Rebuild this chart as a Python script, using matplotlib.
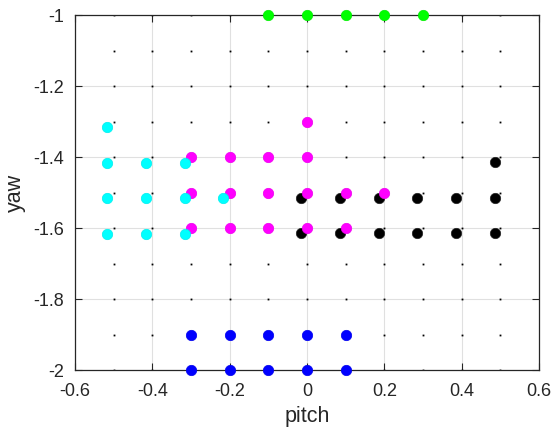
import numpy as np
import matplotlib
matplotlib.use('Agg')
import matplotlib.pyplot as plt

plt.rcParams['font.family'] = ['Liberation Sans', 'DejaVu Sans']

# sample grid (small black dots)
grid_pitch = [-0.5, -0.4, -0.3, -0.2, -0.1, 0.0, 0.1, 0.2, 0.3, 0.4, 0.5]
grid_yaw = [-1.0, -1.1, -1.2, -1.3, -1.4, -1.5, -1.6, -1.7, -1.8, -1.9, -2.0]

# green group
green_pitch = [-0.1, 0.0, 0.1, 0.2, 0.3]
green_yaw = [-1.0, -1.0, -1.0, -1.0, -1.0]

# blue group
blue_pitch = [-0.3, -0.2, -0.1, 0.0, 0.1, -0.3, -0.2, -0.1, 0.0, 0.1]
blue_yaw = [-1.9, -1.9, -1.9, -1.9, -1.9, -2.0, -2.0, -2.0, -2.0, -2.0]

# black group
black_pitch = [0.485,
               -0.015, 0.085, 0.185, 0.285, 0.385, 0.485,
               -0.015, 0.085, 0.185, 0.285, 0.385, 0.485]
black_yaw = [-1.415,
             -1.515, -1.515, -1.515, -1.515, -1.515, -1.515,
             -1.615, -1.615, -1.615, -1.615, -1.615, -1.615]

# magenta group
magenta_pitch = [0.0,
                 -0.3, -0.2, -0.1, 0.0,
                 -0.3, -0.2, -0.1, 0.0, 0.1, 0.2,
                 -0.3, -0.2, -0.1, 0.0, 0.1]
magenta_yaw = [-1.3,
               -1.4, -1.4, -1.4, -1.4,
               -1.5, -1.5, -1.5, -1.5, -1.5, -1.5,
               -1.6, -1.6, -1.6, -1.6, -1.6]

# cyan group
cyan_pitch = [-0.516,
              -0.516, -0.416, -0.316,
              -0.516, -0.416, -0.316, -0.216,
              -0.516, -0.416, -0.316]
cyan_yaw = [-1.316,
            -1.416, -1.416, -1.416,
            -1.516, -1.516, -1.516, -1.516,
            -1.616, -1.616, -1.616]

fig = plt.figure(figsize=(5.55, 4.30), dpi=100)
ax = fig.add_axes([0.1351, 0.1395, 0.8361, 0.8256])

gx, gy = np.meshgrid(grid_pitch, grid_yaw)
ax.plot(gx.ravel(), gy.ravel(), 's', color='black', markersize=1.3,
        markeredgewidth=0, zorder=2)

ms = 56
ax.scatter(black_pitch, black_yaw, s=ms, color='#000000', edgecolors='#222222', linewidths=0.5, zorder=3)
ax.scatter(magenta_pitch, magenta_yaw, s=ms, color='#ff00ff', edgecolors='#ee00ee', linewidths=0.5, zorder=4)
ax.scatter(cyan_pitch, cyan_yaw, s=ms, color='#00ffff', edgecolors='#00eeee', linewidths=0.5, zorder=5)
ax.scatter(green_pitch, green_yaw, s=ms, color='#00ff00', edgecolors='#00ee00', linewidths=0.5, zorder=5, clip_on=False)
ax.scatter(blue_pitch, blue_yaw, s=ms, color='#0000ff', edgecolors='#0000ee', linewidths=0.5, zorder=5, clip_on=False)

ax.set_xlim(-0.6, 0.6)
ax.set_ylim(-2, -1)
ax.set_xticks([-0.6, -0.4, -0.2, 0, 0.2, 0.4, 0.6])
ax.set_xticklabels(['-0.6', '-0.4', '-0.2', '0', '0.2', '0.4', '0.6'])
ax.set_yticks([-2, -1.8, -1.6, -1.4, -1.2, -1])
ax.set_yticklabels(['-2', '-1.8', '-1.6', '-1.4', '-1.2', '-1'])

ax.grid(True, color='#e0e0e0', linewidth=0.8, zorder=0)
ax.set_axisbelow(True)
ax.tick_params(direction='in', length=5, width=0.8, top=True, right=True,
               labelsize=13, colors='#262626')
ax.tick_params(axis='x', pad=9)
ax.tick_params(axis='y', pad=8)
for s in ax.spines.values():
    s.set_color('#262626')
    s.set_linewidth(0.9)

ax.set_xlabel('pitch', fontsize=15.5, color='#262626', labelpad=5)
ax.set_ylabel('yaw', fontsize=15.5, color='#262626', labelpad=5)

fig.savefig('out.png', dpi=100)
